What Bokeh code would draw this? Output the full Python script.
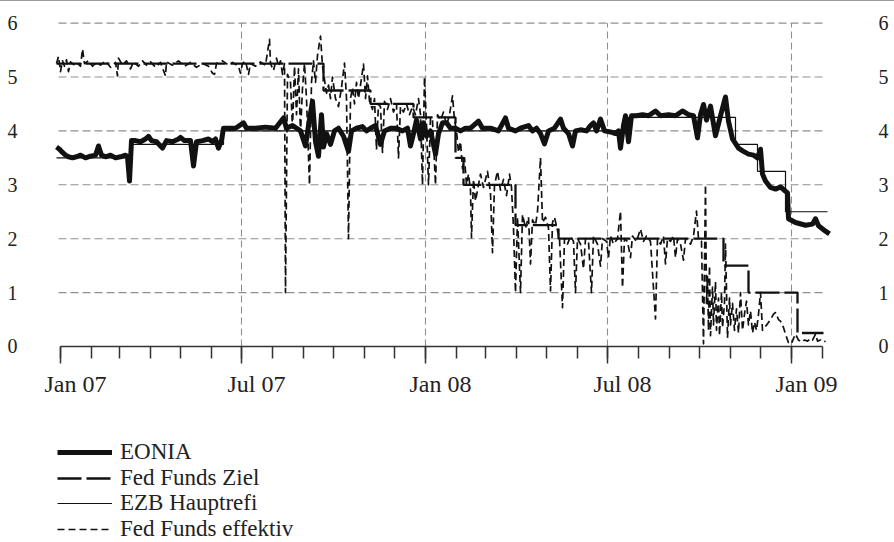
import pandas as pd
from bokeh.plotting import figure
from bokeh.models import (Range1d, FixedTicker, LinearAxis, DatetimeAxis, DatetimeTickFormatter,
                          Legend, LegendItem)
from bokeh.embed import file_html
from bokeh.resources import INLINE

# ---------------- data (days since 1 Jan 2007, rates in %) ----------------
START = pd.Timestamp("2007-01-01")

eonia_days = [-4, -1, 2, 5, 8, 12, 16, 20, 25, 30, 35, 38, 41, 45, 50, 55, 60, 65, 67, 69,
              71, 75, 80, 85, 88, 91, 96, 102, 106, 112, 118, 120, 124, 130, 133, 136, 142, 148, 152, 155,
              158, 161, 163, 168, 175, 183, 186, 195, 205, 215, 223, 226, 232, 240, 245, 248, 252, 255, 258, 261,
              263, 266, 270, 274, 278, 283, 288, 291, 296, 302, 306, 310, 315, 320, 324, 330, 336, 342, 347, 350,
              353, 356, 360, 363, 366, 370, 375, 378, 382, 386, 390, 395, 400, 405, 410, 418, 422, 430, 438, 445,
              448, 455, 460, 468, 472, 476, 480, 484, 488, 494, 500, 503, 508, 512, 515, 520, 526, 530, 533, 536,
              540, 544, 550, 555, 558, 560, 563, 565, 568, 571, 576, 582, 588, 595, 600, 608, 615, 622, 628, 633,
              637, 640, 643, 646, 650, 655, 660, 665, 668, 672, 678, 683, 688, 693, 697, 700, 702, 705, 710, 715,
              720, 725, 727, 728, 735, 745, 752, 755, 758, 765, 769]
eonia_vals = [3.70, 3.66, 3.60, 3.55, 3.52, 3.50, 3.52, 3.55, 3.50, 3.53, 3.55, 3.72, 3.55, 3.52, 3.55, 3.50, 3.52, 3.55, 3.52, 3.07,
              3.82, 3.82, 3.80, 3.85, 3.90, 3.82, 3.80, 3.68, 3.82, 3.80, 3.85, 3.88, 3.82, 3.82, 3.35, 3.80, 3.82, 3.85, 3.80, 3.85,
              3.68, 3.82, 4.05, 4.05, 4.05, 4.15, 4.05, 4.05, 4.07, 4.05, 4.24, 4.05, 4.10, 4.00, 3.72, 4.10, 4.55, 3.80, 3.53, 4.30,
              3.70, 3.95, 3.75, 4.00, 4.05, 3.90, 3.62, 4.00, 4.05, 4.08, 4.00, 4.05, 4.10, 3.75, 4.00, 4.05, 4.05, 4.00, 4.05, 3.72,
              3.95, 4.20, 3.85, 4.15, 3.90, 4.00, 3.57, 3.95, 4.15, 4.15, 4.05, 4.05, 4.00, 4.05, 4.05, 4.18, 4.05, 4.05, 4.00, 4.24,
              4.05, 4.00, 4.05, 4.10, 4.00, 4.05, 3.95, 3.76, 4.00, 4.05, 4.22, 4.05, 3.95, 3.72, 4.00, 4.02, 4.00, 4.10, 4.15, 4.00,
              4.22, 4.00, 3.98, 3.95, 4.00, 3.68, 4.10, 4.28, 3.80, 4.28, 4.28, 4.30, 4.28, 4.37, 4.28, 4.30, 4.28, 4.37, 4.30, 4.28,
              3.87, 4.30, 4.49, 4.20, 4.46, 3.91, 4.28, 4.63, 4.18, 3.85, 3.68, 3.62, 3.57, 3.55, 3.50, 3.66, 3.20, 3.07, 2.95, 2.92,
              2.96, 2.88, 2.85, 2.37, 2.30, 2.25, 2.27, 2.37, 2.24, 2.14, 2.09]

ezb_days = [-4, 71, 163, 568, 675, 697, 725, 767]
ezb_vals = [3.50, 3.75, 4.00, 4.25, 3.75, 3.25, 2.50, 2.50]

ffziel_days = [-4, 263, 310, 353, 395, 403, 455, 498, 663, 688, 737, 763]
ffziel_vals = [5.25, 4.75, 4.50, 4.25, 3.50, 3.00, 2.25, 2.00, 1.50, 1.00, 0.25, 0.25]

ffeff_days = [-4, -2, 0, 2, 4, 6, 8, 10, 14, 17, 20, 22, 24, 28, 32, 36, 40, 45, 50, 55,
              57, 58, 62, 66, 70, 73, 78, 82, 86, 90, 95, 100, 105, 106, 112, 118, 124, 130, 136, 142,
              148, 152, 154, 156, 162, 168, 172, 178, 180, 182, 185, 188, 190, 195, 200, 205, 209, 210, 213, 216,
              218, 220, 222, 224, 225, 227, 230, 232, 234, 236, 238, 240, 242, 244, 246, 249, 251, 253, 255, 257,
              260, 262, 264, 266, 268, 270, 272, 275, 278, 281, 284, 286, 288, 290, 292, 294, 296, 298, 300, 303,
              305, 307, 309, 312, 314, 316, 318, 320, 322, 324, 327, 330, 333, 336, 338, 340, 343, 346, 349, 352,
              355, 358, 360, 362, 364, 366, 368, 370, 372, 375, 377, 380, 383, 386, 389, 392, 394, 396, 398, 400,
              402, 404, 406, 408, 410, 411, 413, 415, 417, 420, 423, 427, 430, 432, 434, 437, 440, 443, 446, 449,
              451, 453, 455, 457, 460, 462, 465, 468, 470, 472, 475, 477, 480, 482, 485, 488, 490, 492, 494, 497,
              499, 502, 504, 507, 510, 513, 515, 517, 520, 523, 525, 528, 531, 533, 537, 540, 542, 546, 548, 550,
              553, 557, 560, 562, 564, 567, 570, 572, 576, 580, 583, 586, 590, 595, 597, 600, 603, 605, 607, 610,
              613, 615, 617, 620, 623, 625, 627, 630, 633, 636, 638, 641, 643, 645, 646, 647, 648, 649, 650, 652,
              653, 655, 656, 658, 659, 661, 662, 664, 665, 667, 669, 670, 672, 674, 676, 678, 680, 682, 684, 686,
              688, 690, 692, 694, 696, 698, 700, 702, 704, 707, 710, 713, 715, 718, 720, 723, 725, 728, 731, 733,
              735, 738, 741, 744, 747, 750, 752, 755, 757, 760, 763, 765]
ffeff_vals = [5.25, 5.38, 5.10, 5.30, 5.20, 5.32, 5.10, 5.28, 5.22, 5.25, 5.20, 5.52, 5.25, 5.30, 5.20, 5.27, 5.22, 5.30, 5.18, 5.27,
              5.02, 5.35, 5.22, 5.30, 5.15, 5.28, 5.20, 5.30, 5.22, 5.28, 5.18, 5.27, 5.02, 5.28, 5.22, 5.30, 5.20, 5.27, 5.18, 5.25,
              5.20, 5.07, 5.05, 5.25, 5.30, 5.22, 5.27, 5.20, 5.07, 5.25, 5.30, 5.05, 5.25, 5.20, 5.28, 5.22, 5.70, 5.25, 5.12, 5.35,
              5.20, 5.30, 5.05, 5.25, 1.00, 5.05, 4.90, 4.05, 5.20, 4.30, 5.15, 3.95, 4.80, 5.25, 4.60, 3.00, 4.90, 5.30, 4.90, 5.40,
              5.76, 5.20, 4.95, 4.70, 4.85, 4.60, 5.00, 4.60, 4.45, 4.80, 5.26, 4.60, 2.00, 4.60, 4.80, 4.50, 4.90, 4.60, 4.85, 5.24,
              4.60, 5.02, 4.55, 4.40, 4.60, 3.65, 4.50, 4.45, 3.60, 4.55, 4.40, 4.60, 4.35, 4.50, 3.50, 4.45, 4.35, 4.50, 4.30, 4.45,
              4.30, 4.60, 4.30, 3.00, 5.00, 4.10, 3.00, 4.25, 4.20, 3.00, 4.30, 4.20, 4.35, 4.10, 4.30, 4.65, 4.20, 4.00, 3.60, 3.80,
              3.30, 3.50, 3.00, 3.20, 2.90, 2.02, 3.10, 2.70, 2.90, 3.20, 2.95, 3.25, 2.85, 1.74, 3.00, 3.25, 2.90, 3.10, 2.80, 3.20,
              2.95, 2.20, 1.00, 2.40, 1.00, 2.45, 2.20, 2.40, 1.53, 2.35, 2.25, 2.50, 3.50, 2.30, 2.40, 2.20, 1.03, 2.30, 2.40, 2.15,
              2.00, 0.72, 2.00, 1.90, 2.05, 1.95, 1.00, 2.00, 1.90, 1.44, 2.00, 1.95, 1.00, 2.05, 1.90, 1.49, 2.00, 1.95, 1.65, 2.05,
              1.90, 2.00, 2.51, 1.09, 2.00, 1.95, 1.65, 2.05, 1.95, 2.18, 1.95, 2.05, 1.95, 0.51, 2.00, 1.90, 2.05, 1.53, 2.00, 1.95,
              2.05, 1.65, 2.00, 1.90, 1.60, 2.00, 1.95, 1.90, 2.05, 2.51, 2.00, 1.95, 0.05, 3.00, 0.80, 1.30, 0.30, 1.50, 0.20, 1.10,
              0.40, 1.20, 0.30, 0.90, 0.20, 1.00, 0.35, 0.80, 1.90, 0.16, 0.90, 0.40, 0.80, 0.30, 0.70, 0.25, 1.00, 0.30, 0.60, 0.84,
              0.40, 0.66, 0.25, 0.45, 0.30, 0.60, 1.00, 0.30, 0.35, 0.42, 0.50, 0.60, 0.63, 0.50, 0.47, 0.35, 0.23, 0.07, 0.05, 0.15,
              0.23, 0.12, 0.08, 0.12, 0.10, 0.15, 0.12, 0.23, 0.10, 0.12, 0.08, 0.10]

series_labels = ["EONIA", "Fed Funds Ziel", "EZB Hauptrefi", "Fed Funds effektiv"]
major_tick_dates = ["2007-01-01", "2007-07-01", "2008-01-01", "2008-07-01", "2009-01-01"]
minor_tick_first, minor_tick_last = "2007-01-01", "2009-02-01"
y_ticks = [0, 1, 2, 3, 4, 5, 6]
y_grid_lines = [1, 2, 3, 4, 5, 6]

# ---------------- layout constants ----------------
x_range_days = (-34, 780)        # frame margins leave room for the first/last date label
y_range_vals = (-3.637, 6.03)    # lower part of the frame hosts the legend
hgrid_days = (-2, 764)           # horizontal extent of the dashed grid lines
label_shift_days = 15            # date labels sit a little right of their tick in the original


def to_dates(days):
    return (START + pd.to_timedelta(days, unit="D")).to_numpy()


def to_ms(ts):
    return pd.Timestamp(ts).value / 1e6


FONT = "Liberation Serif"
INK = "#111111"
GRID = "#8f8f8f"
AXIS = "#333333"

p = figure(width=894, height=541, x_axis_type="datetime",
           x_range=Range1d(START + pd.Timedelta(days=x_range_days[0]),
                           START + pd.Timedelta(days=x_range_days[1])),
           y_range=Range1d(*y_range_vals),
           output_backend="svg", toolbar_location=None,
           min_border_left=26, min_border_right=54, min_border_top=20, min_border_bottom=0)
p.outline_line_color = None
p.background_fill_color = "white"
p.border_fill_color = "white"
p.styles = {"border-top": "1px solid #9a9a9a"}
p.xgrid[0].grid_line_color = None
p.ygrid[0].grid_line_color = None

fmt = "%b %y"
date_fmt = DatetimeTickFormatter(microseconds=fmt, milliseconds=fmt, seconds=fmt, minsec=fmt,
                                 minutes=fmt, hourmin=fmt, hours=fmt, days=fmt, months=fmt, years=fmt)

# x axis line and ticks, pinned at y = 0 inside the frame, spanning Jan 07 .. Feb 09
xticker = FixedTicker(ticks=[to_ms(d) for d in major_tick_dates],
                      minor_ticks=[to_ms(d) for d in pd.date_range(minor_tick_first, minor_tick_last, freq="MS")])
xa = p.xaxis[0]
xa.fixed_location = 0
xa.bounds = (to_ms(minor_tick_first), to_ms(minor_tick_last))
xa.ticker = xticker
xa.axis_line_color = AXIS
xa.axis_line_width = 1.5
xa.major_tick_line_color = AXIS
xa.major_tick_line_width = 1.5
xa.major_tick_in = 0
xa.major_tick_out = 17
xa.minor_tick_line_color = AXIS
xa.minor_tick_line_width = 1.5
xa.minor_tick_in = 0
xa.minor_tick_out = 12
xa.major_label_text_font_size = "0px"
xa.major_label_text_color = None

# date labels (second axis without line/ticks), slightly right of the ticks as in the original
label_ticker = FixedTicker(ticks=[to_ms(pd.Timestamp(d) + pd.Timedelta(days=label_shift_days))
                                  for d in major_tick_dates])
xl = DatetimeAxis(ticker=label_ticker, formatter=date_fmt, fixed_location=0)
xl.axis_line_color = None
xl.major_tick_line_color = None
xl.minor_tick_line_color = None
xl.major_tick_in = 0
xl.major_tick_out = 17
xl.minor_tick_in = 0
xl.minor_tick_out = 0
xl.major_label_text_font = FONT
xl.major_label_text_font_size = "24px"
xl.major_label_text_color = "#222222"
xl.major_label_standoff = 8
p.add_layout(xl, "below")

# y axes (labels only, both sides)
yticker = FixedTicker(ticks=y_ticks)
ya_left = p.yaxis[0]
ya_left.ticker = yticker
ya_right = LinearAxis(ticker=yticker)
p.add_layout(ya_right, "right")
for ax, standoff in ((ya_left, 9), (ya_right, 38)):
    ax.axis_line_color = None
    ax.major_tick_line_color = None
    ax.minor_tick_line_color = None
    ax.major_tick_out = 0
    ax.major_tick_in = 0
    ax.minor_tick_out = 0
    ax.minor_tick_in = 0
    ax.major_label_standoff = standoff
    ax.major_label_text_font = FONT
    ax.major_label_text_font_size = "20px"
    ax.major_label_text_color = "#222222"

# dashed grid: horizontal lines at 1..6, vertical lines at the labelled months (0..6)
hx0, hx1 = to_dates([hgrid_days[0]])[0], to_dates([hgrid_days[1]])[0]
p.segment(x0=[hx0] * len(y_grid_lines), y0=y_grid_lines, x1=[hx1] * len(y_grid_lines), y1=y_grid_lines,
          line_color=GRID, line_dash="8 4", line_width=1.1)
vgrid_x = to_dates([(pd.Timestamp(d) - START).days for d in major_tick_dates[1:]])
p.segment(x0=vgrid_x, y0=[y_ticks[0]] * len(vgrid_x), x1=vgrid_x, y1=[y_ticks[-1]] * len(vgrid_x),
          line_color=GRID, line_dash="7 4", line_width=1.1)

# series
r_eff = p.line(to_dates(ffeff_days), ffeff_vals, line_color=INK, line_width=1.7,
               line_dash="7 4", line_join="round")
r_eonia = p.line(to_dates(eonia_days), eonia_vals, line_color=INK, line_width=5, line_join="round")
r_ziel = p.step(to_dates(ffziel_days), ffziel_vals, mode="after", line_color=INK,
                line_width=2.3, line_dash="24 5")
r_ezb = p.step(to_dates(ezb_days), ezb_vals, mode="after", line_color=INK, line_width=1.2)

# one legend per row so that the row pitch can follow the reference
renderers = [r_eonia, r_ziel, r_ezb, r_eff]
row_offsets = [77, 51.5, 26, 0.5]
for label, rend, off in zip(series_labels, renderers, row_offsets):
    lg = Legend(items=[LegendItem(label=label, renderers=[rend])], location=(31, off))
    lg.padding = 0
    lg.margin = 0
    lg.spacing = 0
    lg.glyph_width = 55
    lg.glyph_height = 20
    lg.label_height = 20
    lg.label_standoff = 8
    lg.label_text_font = FONT
    lg.label_text_font_size = "23px"
    lg.label_text_color = "#222222"
    lg.border_line_color = None
    lg.background_fill_alpha = 0
    p.add_layout(lg)

open("out.html", "w").write(file_html(p, INLINE))
